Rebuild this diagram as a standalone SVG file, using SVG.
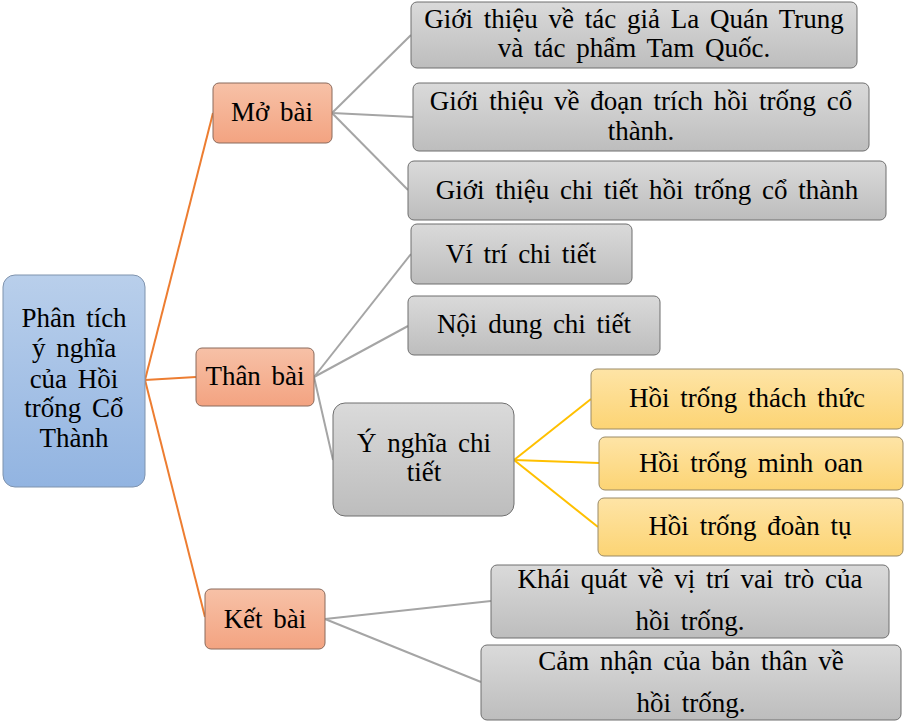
<svg xmlns="http://www.w3.org/2000/svg" width="905" height="723" viewBox="0 0 905 723">
<defs>
<linearGradient id="gBlue" x1="0" y1="0" x2="0" y2="1"><stop offset="0" stop-color="#b9cfeb"/><stop offset="1" stop-color="#92b4e1"/></linearGradient>
<linearGradient id="gSal" x1="0" y1="0" x2="0" y2="1"><stop offset="0" stop-color="#f7c1a7"/><stop offset="1" stop-color="#f3a381"/></linearGradient>
<linearGradient id="gGray" x1="0" y1="0" x2="0" y2="1"><stop offset="0" stop-color="#dadada"/><stop offset="1" stop-color="#bdbdbd"/></linearGradient>
<linearGradient id="gYel" x1="0" y1="0" x2="0" y2="1"><stop offset="0" stop-color="#fee4a6"/><stop offset="1" stop-color="#fcd474"/></linearGradient>
</defs>
<style>
.t{font-size:27px;fill:#000;text-anchor:middle;word-spacing:4px}
.blue{fill:url(#gBlue);stroke:#7f93ad;stroke-width:1}
.sal{fill:url(#gSal);stroke:#8a6a5c;stroke-width:1}
.gray{fill:url(#gGray);stroke:#6f6f6f;stroke-width:1}
.yel{fill:url(#gYel);stroke:#9a8a66;stroke-width:1}
.co{stroke:#ed7d31;stroke-width:2;fill:none}
.cg{stroke:#a5a5a5;stroke-width:2;fill:none}
.cy{stroke:#ffc000;stroke-width:2;fill:none}
</style>
<rect width="905" height="723" fill="#ffffff"/>
<g id="connectors">
<line class="co" x1="145" y1="380" x2="213" y2="113"/>
<line class="co" x1="145" y1="380" x2="196" y2="377"/>
<line class="co" x1="145" y1="380" x2="205" y2="617"/>
<line class="cg" x1="332" y1="113" x2="411" y2="35"/>
<line class="cg" x1="332" y1="113" x2="413" y2="117"/>
<line class="cg" x1="332" y1="113" x2="408" y2="190"/>
<line class="cg" x1="314" y1="377" x2="411" y2="254"/>
<line class="cg" x1="314" y1="377" x2="408" y2="326"/>
<line class="cg" x1="314" y1="377" x2="333" y2="460"/>
<line class="cy" x1="514" y1="460" x2="591" y2="399"/>
<line class="cy" x1="514" y1="460" x2="599" y2="463"/>
<line class="cy" x1="514" y1="460" x2="598" y2="527"/>
<line class="cg" x1="325" y1="619" x2="491" y2="601"/>
<line class="cg" x1="325" y1="619" x2="481" y2="682"/>
</g>
<g font-family="Liberation Serif, serif">
<g id="root">
<rect class="blue" x="3" y="275" width="142" height="212" rx="12"/>
<text class="t" x="74" y="327">Phân tích</text>
<text class="t" x="74" y="357">ý nghĩa</text>
<text class="t" x="74" y="388">của Hồi</text>
<text class="t" x="74" y="417">trống Cổ</text>
<text class="t" x="74" y="447">Thành</text>
</g>
<g id="mobai">
<rect class="sal" x="213" y="83" width="119" height="60" rx="6"/>
<text class="t" x="272" y="121">Mở bài</text>
</g>
<g id="thanbai">
<rect class="sal" x="196" y="348" width="118" height="58" rx="6"/>
<text class="t" x="255" y="385">Thân bài</text>
</g>
<g id="ketbai">
<rect class="sal" x="205" y="589" width="120" height="60" rx="6"/>
<text class="t" x="265" y="628">Kết bài</text>
</g>
<g id="mb1">
<rect class="gray" x="411" y="2" width="446" height="66" rx="6"/>
<text class="t" x="634" y="28">Giới thiệu về tác giả La Quán Trung</text>
<text class="t" x="634" y="57">và tác phẩm Tam Quốc.</text>
</g>
<g id="mb2">
<rect class="gray" x="413" y="83" width="456" height="68" rx="6"/>
<text class="t" x="641" y="110">Giới thiệu về đoạn trích hồi trống cổ</text>
<text class="t" x="641" y="140">thành.</text>
</g>
<g id="mb3">
<rect class="gray" x="408" y="161" width="478" height="59" rx="6"/>
<text class="t" x="647" y="199">Giới thiệu chi tiết hồi trống cổ thành</text>
</g>
<g id="tb1">
<rect class="gray" x="411" y="224" width="221" height="60" rx="6"/>
<text class="t" x="521" y="263">Ví trí chi tiết</text>
</g>
<g id="tb2">
<rect class="gray" x="408" y="296" width="252" height="59" rx="6"/>
<text class="t" x="534" y="333">Nội dung chi tiết</text>
</g>
<g id="tb3">
<rect class="gray" x="333" y="403" width="181" height="113" rx="12"/>
<text class="t" x="424" y="452">Ý nghĩa chi</text>
<text class="t" x="424" y="481">tiết</text>
</g>
<g id="y1">
<rect class="yel" x="591" y="369" width="312" height="60" rx="6"/>
<text class="t" x="747" y="407">Hồi trống thách thức</text>
</g>
<g id="y2">
<rect class="yel" x="599" y="437" width="304" height="53" rx="6"/>
<text class="t" x="751" y="472">Hồi trống minh oan</text>
</g>
<g id="y3">
<rect class="yel" x="598" y="498" width="305" height="58" rx="6"/>
<text class="t" x="750" y="535">Hồi trống đoàn tụ</text>
</g>
<g id="kb1">
<rect class="gray" x="491" y="565" width="398" height="73" rx="6"/>
<text class="t" x="690" y="588">Khái quát về vị trí vai trò của</text>
<text class="t" x="690" y="630">hồi trống.</text>
</g>
<g id="kb2">
<rect class="gray" x="481" y="645" width="420" height="75" rx="6"/>
<text class="t" x="691" y="670">Cảm nhận của bản thân về</text>
<text class="t" x="691" y="712">hồi trống.</text>
</g>
</g>
</svg>
